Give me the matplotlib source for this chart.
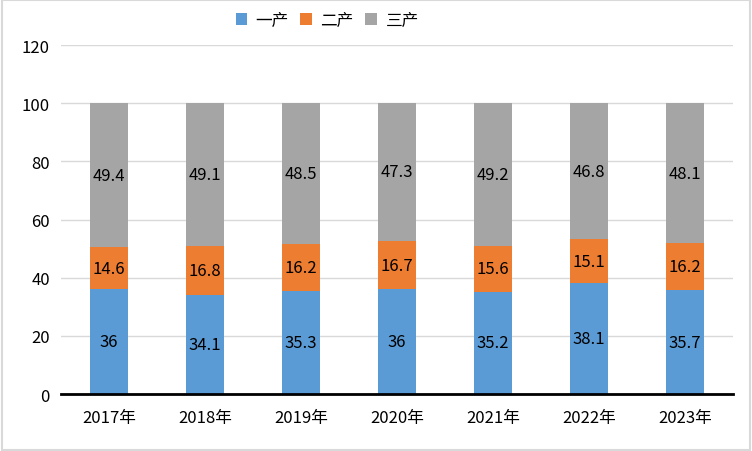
import matplotlib
matplotlib.use("Agg")
import matplotlib.pyplot as plt
from matplotlib.patches import Rectangle
import numpy as np

plt.rcParams['font.family'] = ['Noto Sans CJK SC', 'DejaVu Sans']

years = ["2017年", "2018年", "2019年", "2020年", "2021年", "2022年", "2023年"]
primary = [36, 34.1, 35.3, 36, 35.2, 38.1, 35.7]
secondary = [14.6, 16.8, 16.2, 16.7, 15.6, 15.1, 16.2]
tertiary = [49.4, 49.1, 48.5, 47.3, 49.2, 46.8, 48.1]
names = ["一产", "二产", "三产"]
colors = ["#5B9BD5", "#ED7D31", "#A5A5A5"]

fig = plt.figure(figsize=(7.52, 4.52), dpi=100)
ax = fig.add_axes([0.0811, 0.1261, 0.8936, 0.7721])

x = np.arange(len(years))
bottom = np.zeros(len(years))
for vals, name, c in zip([primary, secondary, tertiary], names, colors):
    ax.bar(x, vals, 0.4, bottom=bottom, color=c, label=name, zorder=3)
    for xi, b, v in zip(x, bottom, vals):
        ax.text(xi, b + v / 2, f"{v:g}", ha="center", va="center",
                fontsize=12, color="black", zorder=4)
    bottom += np.array(vals)

ax.set_xlim(-0.5, len(years) - 0.5)
ax.set_ylim(0, 120)
ax.set_yticks(range(0, 121, 20))
ax.set_xticks(x)
ax.set_xticklabels(years)
ax.tick_params(axis="both", length=0, labelsize=12)
ax.tick_params(axis="x", pad=11)
ax.tick_params(axis="y", pad=8)
ax.grid(axis="y", color="#D9D9D9", linewidth=1, zorder=0)
for s in ["top", "right", "left"]:
    ax.spines[s].set_visible(False)
ax.spines["bottom"].set_color("black")
ax.spines["bottom"].set_linewidth(2)
ax.spines["bottom"].set_zorder(5)

fig.legend(loc="upper center", bbox_to_anchor=(0.435, 1.005), ncol=3, frameon=False,
           fontsize=12, handlelength=0.7, handleheight=0.7, handletextpad=0.5,
           columnspacing=0.7)

fig.patches.append(Rectangle((0.002, 0.002), 0.996, 0.996, transform=fig.transFigure,
                             fill=False, edgecolor="#D9D9D9", linewidth=1.5))

fig.savefig("out.png", dpi=100, facecolor="white")
